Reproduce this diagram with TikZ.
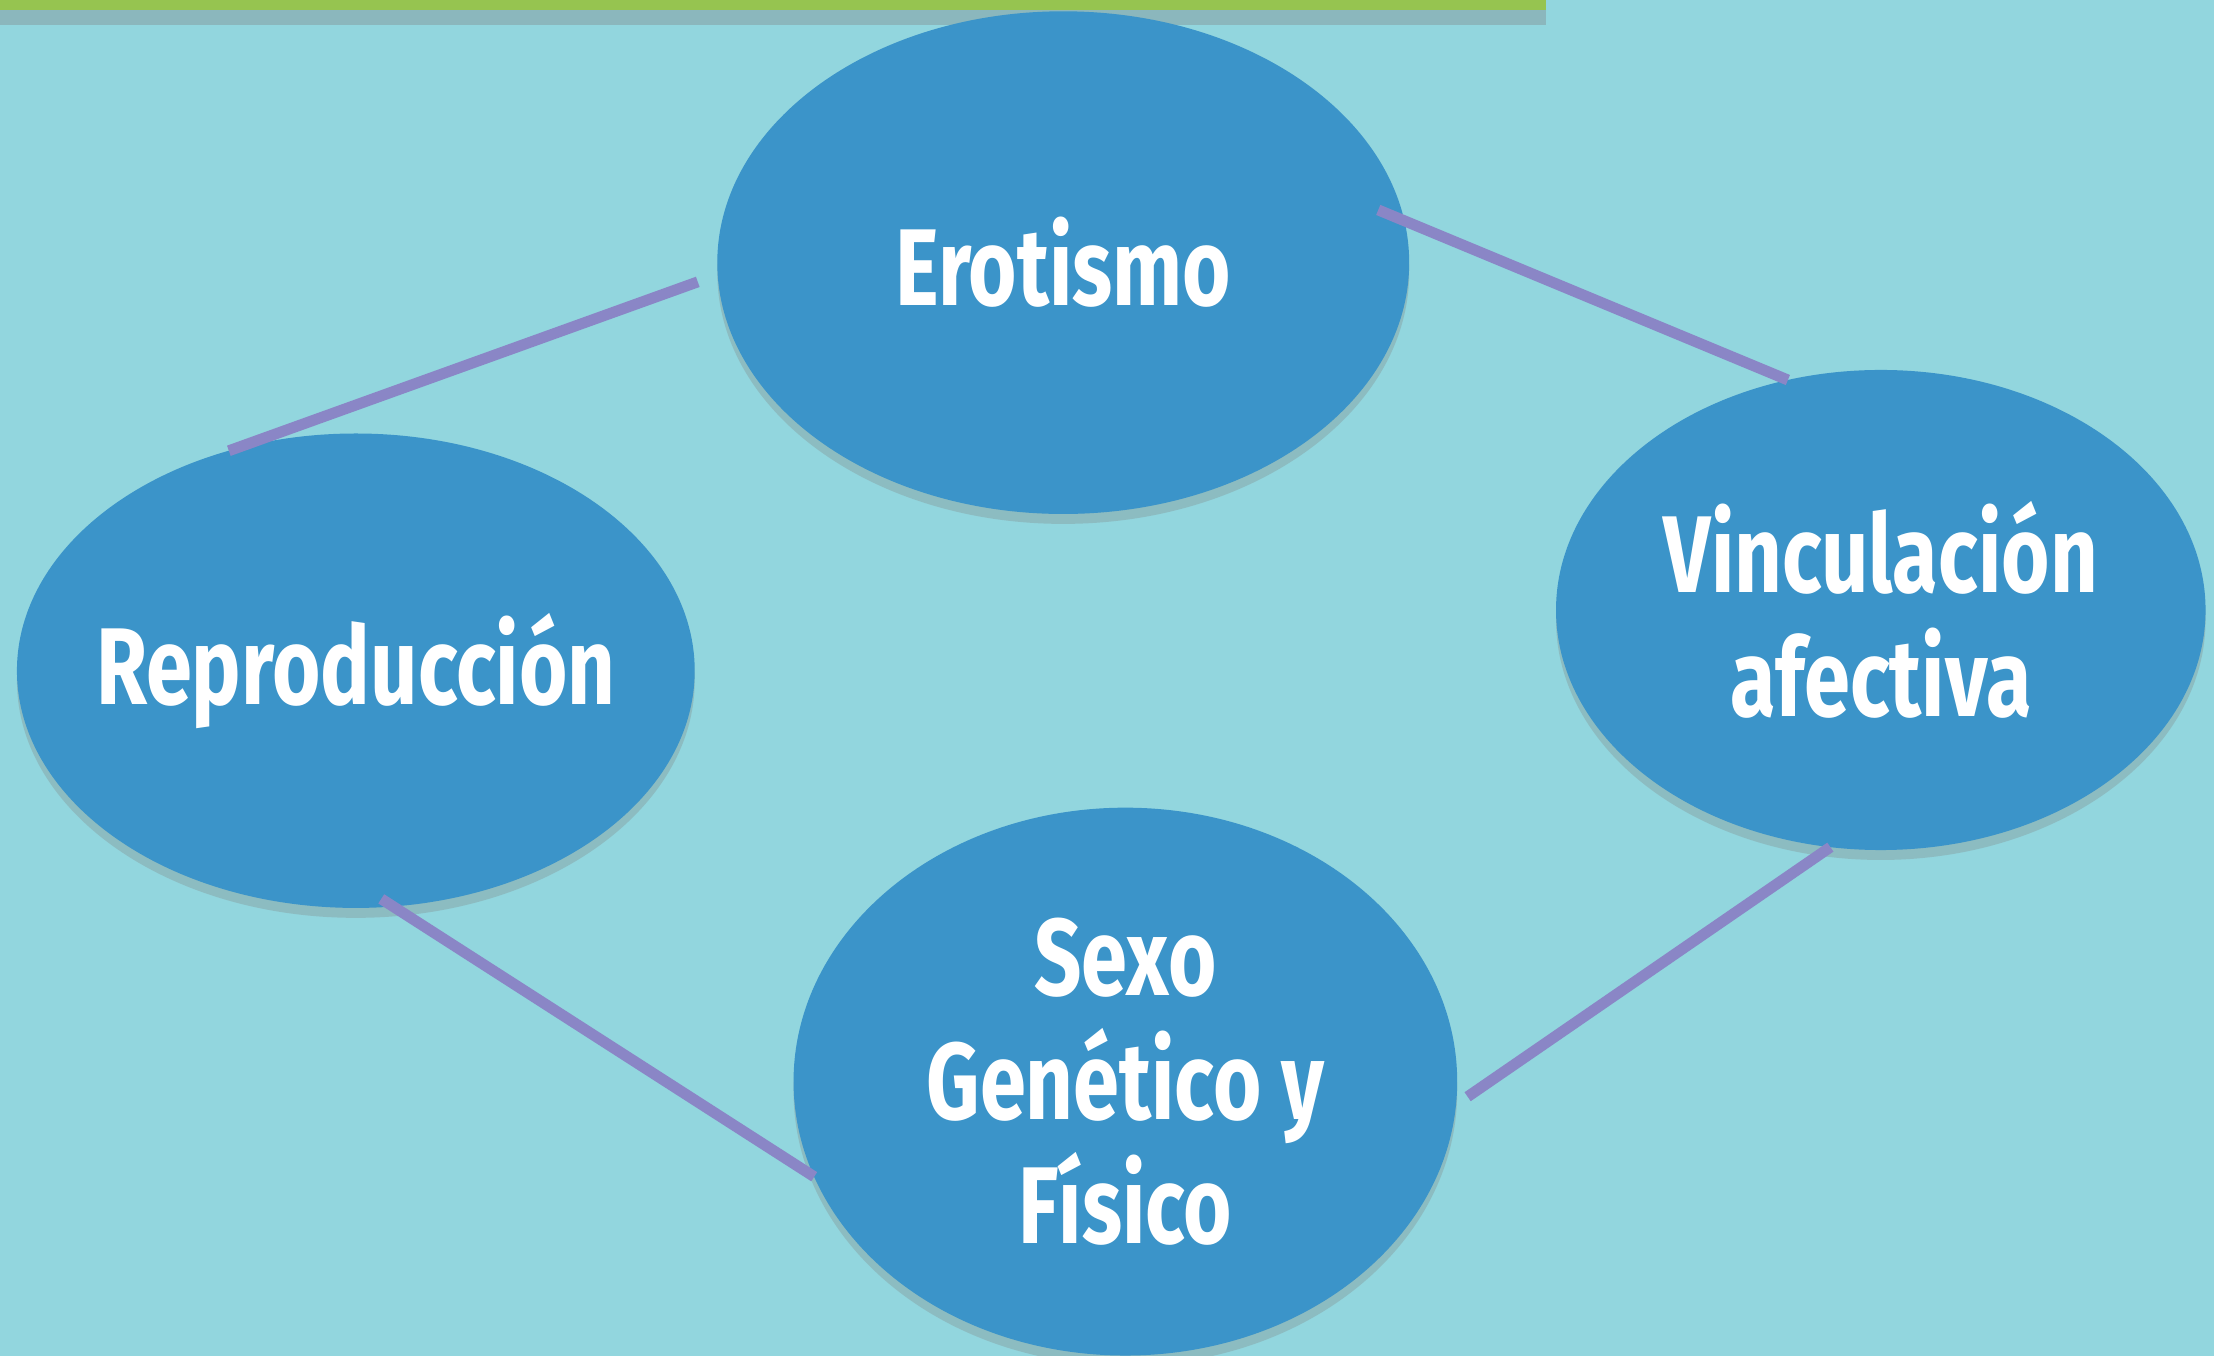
\documentclass[tikz,border=0pt]{standalone}
\usepackage{fontspec}
\newfontfamily\chalkfont[FakeStretch=0.76]{Fira Sans}
\usetikzlibrary{shapes.geometric,shadows}
\definecolor{paper}{RGB}{146,214,222}
\definecolor{blob}{RGB}{59,148,201}
\definecolor{link}{RGB}{138,134,198}
\definecolor{leaf}{RGB}{150,196,80}

\begin{document}
\begin{tikzpicture}[
    Area/.style={ellipse,fill=blob,inner sep=0pt,outer sep=0pt,
      drop shadow={shadow xshift=0pt,shadow yshift=-2pt,opacity=0.3}},
    Name/.style={text=white,align=center,
      font=\chalkfont\bfseries\fontsize{22}{25}\selectfont},
    Link/.style={draw=link,line width=2.2pt}]
\useasboundingbox (0,0) rectangle (15.68,9.6);
\fill[paper] (0,0) rectangle (15.68,9.6);
\fill[leaf,drop shadow={shadow xshift=0pt,shadow yshift=-3pt,opacity=0.35}]
  (0,9.53) rectangle (10.95,9.8);
            % Vertices
\node[Area,minimum width=4.9cm,minimum height=3.56cm,
  label={[Name]center:Erotismo}] (ero) at (7.53,7.74) {};
\node[Area,minimum width=4.6cm,minimum height=3.4cm,
  label={[Name]center:{Vinculación\\afectiva}}] (vin) at (13.32,5.28) {};
\node[Area,minimum width=4.8cm,minimum height=3.36cm,
  label={[Name]center:Reproducción}] (rep) at (2.52,4.85) {};
\node[Area,minimum width=4.7cm,minimum height=3.88cm,
  label={[Name]center:{Sexo\\Genético y\\Físico}}] (sex) at (7.97,1.94) {};
%Links
\draw[Link,shorten <=0.15cm] (ero.182) -- (rep.120);
\draw[Link,shorten <=-0.2cm] (ero.7) -- (vin.112);
\draw[Link,shorten <=-0.1cm] (rep.279) -- (sex.197);
\draw[Link,shorten >=0.1cm] (vin.258) -- (sex.356);

\end{tikzpicture}
\end{document}
